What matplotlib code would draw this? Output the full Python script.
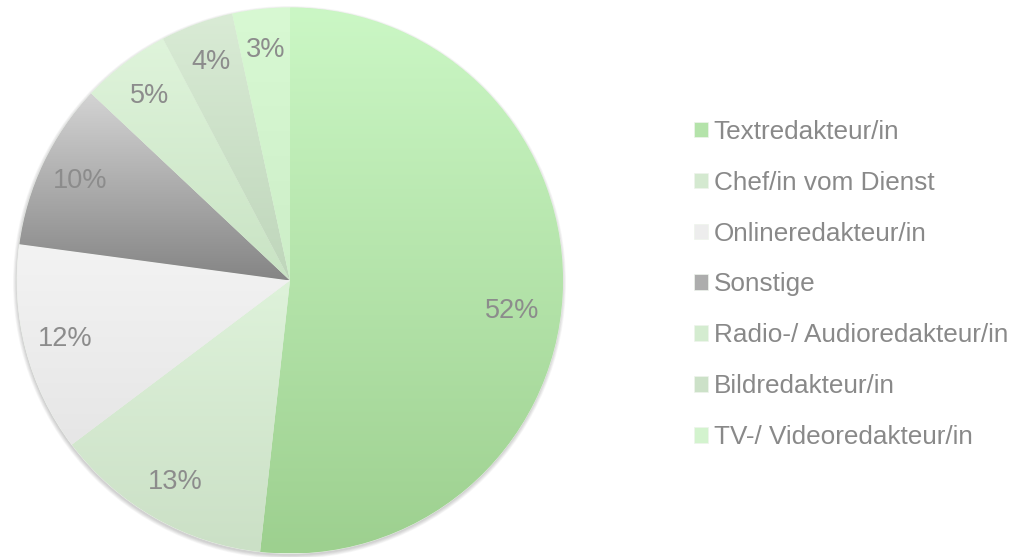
import matplotlib
matplotlib.use('Agg')
from matplotlib import pyplot as plt
from matplotlib.colors import to_rgb
from matplotlib.patches import Circle
import numpy as np

plt.rcParams['font.family'] = ['Liberation Sans', 'DejaVu Sans']

labels = ['Textredakteur/in', 'Chef/in vom Dienst', 'Onlineredakteur/in', 'Sonstige',
          'Radio-/ Audioredakteur/in', 'Bildredakteur/in', 'TV-/ Videoredakteur/in']
shares = [51.8, 13.0, 12.4, 9.9, 5.3, 4.3, 3.4]
# gradient colours, top -> bottom
top_colors = ['#cbf7c5', '#def2da', '#f3f3f3', '#d4d4d4', '#dff4db', '#d9ebd5', '#d8f9d3']
bottom_colors = ['#9dd08f', '#cbe0c6', '#e6e6e6', '#858585', '#c9e3c4', '#bfd6bb', '#cdeec8']

W, H = 1019, 557
cx, cy, r = 290, H - 280.5, 273

fig = plt.figure(figsize=(W / 100, H / 100), dpi=100)
ax = fig.add_axes([0, 0, 1, 1])

# soft shadow, mostly below the pie
for k in range(6):
    ax.add_patch(Circle((cx - 0.5, cy - 2.0), r + k * 0.7, color='black',
                        alpha=0.03, lw=0, zorder=0))

mid_colors = [tuple((np.array(to_rgb(a)) + np.array(to_rgb(b))) / 2)
              for a, b in zip(top_colors, bottom_colors)]
wedges, texts, autotexts = ax.pie(shares, colors=mid_colors, center=(cx, cy), radius=r,
                                  startangle=90, counterclock=False, autopct='%.0f%%',
                                  pctdistance=0.85,
                                  wedgeprops=dict(linewidth=0.5, edgecolor='#eef4ec'),
                                  textprops=dict(fontsize=19.5, color='#8c8c8c'))

for w, c1, c2 in zip(wedges, top_colors, bottom_colors):
    ext = w.get_path().get_extents()
    t = np.linspace(0, 1, 256)[:, None, None]
    grad = (1 - t) * np.array(to_rgb(c1)) + t * np.array(to_rgb(c2))
    im = ax.imshow(grad, extent=[ext.x0, ext.x1, ext.y0, ext.y1], origin='upper',
                   aspect='auto', interpolation='bilinear', zorder=w.get_zorder() + 0.1)
    im.set_clip_path(w)

for at in autotexts:
    at.set_zorder(5)
# Excel puts the big label a bit lower
x, y = autotexts[0].get_position()
autotexts[0].set_position((x - 10, y - 18))

ax.legend(wedges, labels, loc='center left', bbox_to_anchor=(694 / W, 1 - 284.5 / H),
          bbox_transform=fig.transFigure, frameon=False, fontsize=18.8,
          labelcolor='#898989', handlelength=0.54, handleheight=0.54,
          handletextpad=0.22, labelspacing=1.03, borderpad=0, borderaxespad=0)

ax.set_xlim(0, W)
ax.set_ylim(0, H)
ax.set_aspect('equal')
ax.axis('off')
fig.savefig('out.png', dpi=100)
